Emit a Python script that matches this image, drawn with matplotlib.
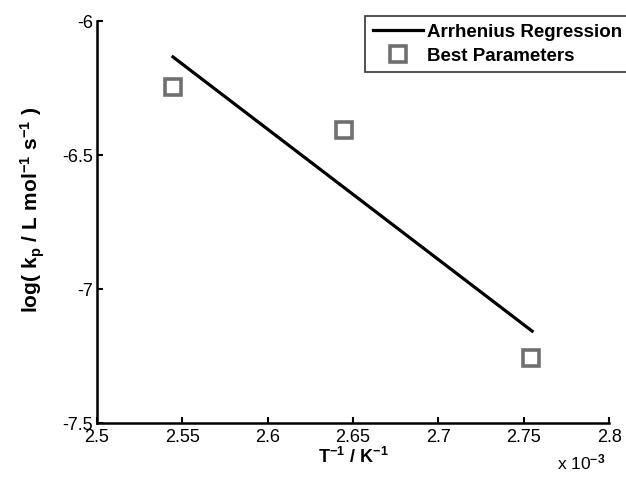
import matplotlib
matplotlib.use("Agg")
import matplotlib.pyplot as plt

# data
inv_T = [2.5445e-3, 2.6447e-3, 2.7543e-3]
log_kp = [-6.246, -6.407, -7.257]
fit_x = [2.5445e-3, 2.7549e-3]
fit_y = [-6.134, -7.157]

plt.rcParams['font.family'] = ['Liberation Sans', 'DejaVu Sans']
plt.rcParams['mathtext.fontset'] = 'custom'
plt.rcParams['mathtext.rm'] = 'Liberation Sans:bold'
plt.rcParams['mathtext.it'] = 'Liberation Sans:bold'
plt.rcParams['mathtext.bf'] = 'Liberation Sans:bold'

fig = plt.figure(figsize=(6.26, 4.78), dpi=100)
ax = fig.add_axes([0.155, 0.115, 0.818, 0.841])

xs = [v * 1e3 for v in fit_x]
ax.plot(xs, fit_y, color='black', lw=2.3, label='Arrhenius Regression')
ax.plot([v * 1e3 for v in inv_T], log_kp, ls='none', marker='s', ms=11,
        mfc='white', mec='#6f6f6f', mew=2.6, label='Best Parameters')

ax.set_xlim(2.5, 2.8)
ax.set_ylim(-7.5, -6)
ax.set_xticks([2.5, 2.55, 2.6, 2.65, 2.7, 2.75, 2.8])
ax.set_xticklabels(['2.5', '2.55', '2.6', '2.65', '2.7', '2.75', '2.8'])
ax.set_yticks([-7.5, -7, -6.5, -6])
ax.set_yticklabels(['-7.5', '-7', '-6.5', '-6'])
ax.tick_params(direction='in', length=4, width=1.5, labelsize=13)
ax.tick_params(axis='x', pad=4)
ax.tick_params(axis='y', pad=3)
ax.spines['top'].set_visible(False)
ax.spines['right'].set_visible(False)
ax.spines['left'].set_linewidth(1.8)
ax.spines['bottom'].set_linewidth(1.8)

ax.set_xlabel(r'$\mathrm{T^{-1}\ /\ K^{-1}}$', fontsize=13, labelpad=1)
ax.set_ylabel(r'$\mathrm{log(\ k_p\ /\ L\ mol^{-1}\ s^{-1}\ )}$', fontsize=15)
ax.yaxis.set_label_coords(-0.097, 0.53)
fig.text(0.89, 0.018, r'x 10$^{-3}$', fontsize=12.5)

leg = ax.legend(loc='upper right', bbox_to_anchor=(1.04, 1.012), borderaxespad=0,
                frameon=True, fancybox=False, edgecolor='black', handlelength=2.7,
                borderpad=0.4, labelspacing=0.35, handletextpad=0.2,
                prop={'weight': 'bold', 'size': 13.5})
leg.get_frame().set_linewidth(1.2)

fig.savefig('out.png', dpi=100)
